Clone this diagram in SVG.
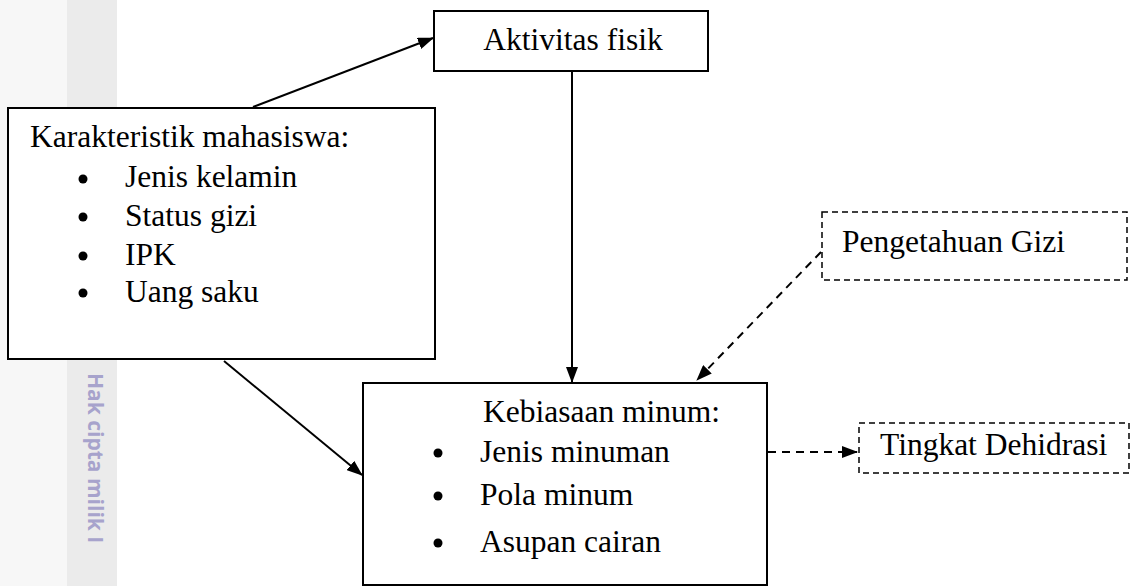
<svg xmlns="http://www.w3.org/2000/svg" width="1132" height="586" viewBox="0 0 1132 586">
<style>
.box{fill:#fff;stroke:#000;stroke-width:2}
.dbox{fill:#fff;stroke:#000;stroke-width:1.5;stroke-dasharray:6 4}
.t{font-family:"Liberation Serif","Times New Roman",serif;font-size:31.5px;fill:#000}
.ln{stroke:#000;stroke-width:2;fill:none}
.dl{stroke:#000;stroke-width:2;fill:none;stroke-dasharray:8 6}
.wm{font-family:"Open Sans","DejaVu Sans",sans-serif;font-weight:bold;font-size:21px;fill:#a7a3cc}
</style>
<defs>
<marker id="ah" markerWidth="16" markerHeight="12" refX="15" refY="6" orient="auto" markerUnits="userSpaceOnUse">
<path d="M0,0 L16,6 L0,12 Z" fill="#000"/>
</marker>
</defs>
<rect x="0" y="0" width="1132" height="586" fill="#fff"/>
<rect x="0" y="0" width="67" height="586" fill="#f7f7f7"/>
<rect x="67" y="0" width="50" height="586" fill="#ebebeb"/>
<text class="wm" transform="translate(88,373) rotate(90)">Hak cipta milik I</text>
<g id="aktivitas">
<rect class="box" x="434" y="11" width="274" height="60"/>
<text class="t" x="573" y="50" text-anchor="middle">Aktivitas fisik</text>
</g>
<g id="karakteristik">
<rect class="box" x="8" y="108" width="427" height="251"/>
<text class="t" x="30" y="147">Karakteristik mahasiswa:</text>
<circle cx="83" cy="179" r="4.5"/><text class="t" x="125" y="187">Jenis kelamin</text>
<circle cx="83" cy="217" r="4.5"/><text class="t" x="125" y="226">Status gizi</text>
<circle cx="83" cy="256" r="4.5"/><text class="t" x="125" y="265">IPK</text>
<circle cx="83" cy="293" r="4.5"/><text class="t" x="125" y="302">Uang saku</text>
</g>
<g id="kebiasaan">
<rect class="box" x="363" y="383" width="404" height="202"/>
<text class="t" x="483" y="422">Kebiasaan minum:</text>
<circle cx="438" cy="453" r="4.5"/><text class="t" x="480" y="462">Jenis minuman</text>
<circle cx="438" cy="496" r="4.5"/><text class="t" x="480" y="505">Pola minum</text>
<circle cx="438" cy="543" r="4.5"/><text class="t" x="480" y="552">Asupan cairan</text>
</g>
<g id="pengetahuan">
<rect class="dbox" x="822" y="212" width="305" height="68"/>
<text class="t" x="842" y="252">Pengetahuan Gizi</text>
</g>
<g id="tingkat">
<rect class="dbox" x="859" y="423" width="270" height="50"/>
<text class="t" x="880" y="455">Tingkat Dehidrasi</text>
</g>
<g id="connectors">
<line class="ln" x1="253" y1="107" x2="433" y2="38" marker-end="url(#ah)"/>
<line class="ln" x1="572" y1="72" x2="572" y2="382" marker-end="url(#ah)"/>
<line class="ln" x1="224" y1="361" x2="362" y2="475" marker-end="url(#ah)"/>
<line class="dl" x1="821" y1="252" x2="697" y2="380" marker-end="url(#ah)"/>
<line class="dl" x1="768" y1="452" x2="857" y2="452" marker-end="url(#ah)"/>
</g>
</svg>
